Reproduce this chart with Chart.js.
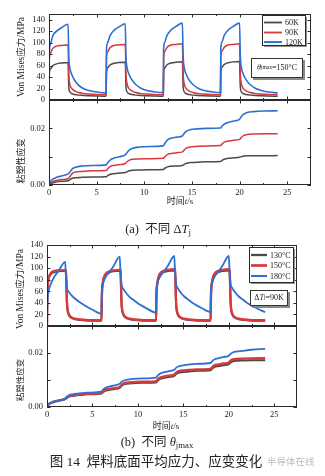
<!DOCTYPE html>
<html>
<head>
<meta charset="utf-8">
<script src="https://cdn.jsdelivr.net/npm/chart.js@4.4.1/dist/chart.umd.min.js"></script>
<style>
  body { margin: 0; background: #fff; }
  #page { position: relative; width: 325px; height: 476px; overflow: hidden; font-family: "Liberation Serif", "Noto Sans CJK SC", serif; color: #222; }
  canvas { position: absolute; left: 0; top: 0; }
  .t { position: absolute; white-space: nowrap; transform: translate(-50%, -50%); line-height: 1; }
  .note { position: absolute; background: #fff; border: 1px solid #333; box-shadow: 2px 2px 0 #8a8a8a; font-size: 8px; line-height: 1; display: flex; align-items: center; justify-content: center; white-space: nowrap; }
  sub { font-size: 70%; vertical-align: -2px; }
  .wm { position: absolute; font-family: "Noto Sans CJK SC", sans-serif; color: #bcbcbc; font-size: 9.5px; white-space: nowrap; line-height: 1; transform: translateY(-50%); }
</style>
</head>
<body>
<div id="page">
  <canvas id="stressA" width="325" height="476"></canvas>
  <canvas id="strainA" width="325" height="476"></canvas>
  <canvas id="stressB" width="325" height="476"></canvas>
  <canvas id="strainB" width="325" height="476"></canvas>

  <div class="note" style="left:251px;top:58px;width:50px;height:18px;"><i>θ</i><sub>jmax</sub>=150°C</div>
  <div class="note" style="left:250px;top:290px;width:36px;height:14px;">Δ<i>T</i><sub>j</sub>=90K</div>

  <div class="t" style="left:180px;top:201px;font-size:9px;">时间<i>t</i>/s</div>
  <div class="t" style="left:166px;top:426px;font-size:9px;">时间<i>t</i>/s</div>
  <div class="t" style="left:158px;top:230px;font-size:12.5px;">(a)&nbsp; 不同 Δ<i>T</i><sub>j</sub></div>
  <div class="t" style="left:157px;top:443px;font-size:12.5px;">(b)&nbsp; 不同 <i>θ</i><sub>jmax</sub></div>
  <div class="t" style="left:156px;top:462px;font-size:13.5px;">图 14&nbsp; 焊料底面平均应力、应变变化</div>
  <div class="wm" style="left:267px;top:462px;">半导体在线</div>
</div>

<script>
// 时间轴（应力曲线）：每 6 s 一个热循环，0–2 s 升温，2–6 s 冷却
const stressTime = [
  0, 0.03, 0.15, 0.4, 0.8, 1.3, 2.0, 2.08, 2.2, 2.4, 2.7, 3.1, 3.6, 4.2, 5.0,
  6, 6.03, 6.15, 6.4, 6.8, 7.3, 8.0, 8.08, 8.2, 8.4, 8.7, 9.1, 9.6, 10.2, 11.0,
  12, 12.03, 12.15, 12.4, 12.8, 13.3, 14.0, 14.08, 14.2, 14.4, 14.7, 15.1, 15.6, 16.2, 17.0,
  18, 18.03, 18.15, 18.4, 18.8, 19.3, 20.0, 20.08, 20.2, 20.4, 20.7, 21.1, 21.6, 22.2, 23.0, 24.0
];

// (a) 不同 ΔTj，θjmax = 150°C
const stressA60 = [
  0, 45, 54, 60, 63, 64.5, 65.5, 22, 14, 11, 9.5, 8.5, 8, 7.5, 7,
  6.5, 47, 56, 61, 64, 65.5, 66, 23, 14, 11, 9.5, 8.5, 8, 7.5, 7,
  6.5, 47, 56, 61.5, 64.5, 66, 66.5, 23, 14, 11, 9.5, 8.5, 8, 7.5, 7,
  6.5, 48, 57, 62, 65, 66.5, 67, 23, 14, 11, 9.5, 8.5, 8, 7.5, 7, 6.5
];
const stressA90 = [
  0, 70, 82, 90, 94, 95, 96, 45, 27, 20, 16, 13, 11.5, 10.5, 9.5,
  9, 72, 84, 91, 95, 96, 97, 46, 28, 20, 16, 13, 11.5, 10.5, 9.5,
  9, 73, 85, 92, 96, 97, 98, 46, 28, 20, 16, 13, 11.5, 10.5, 9.5,
  9, 73, 85, 92, 96, 97, 98, 46, 28, 20, 16, 13, 11.5, 10.5, 9.5, 9
];
const stressA120 = [
  0, 80, 97, 112, 120, 126, 132, 75, 55, 44, 34, 26, 20, 16.5, 14,
  12.5, 88, 100, 112, 121, 127, 133, 76, 56, 45, 35, 27, 21, 17, 14.5,
  13, 88, 101, 113, 122, 128, 134, 77, 56, 45, 35, 27, 21, 17, 14.5,
  13, 88, 101, 113, 122, 128, 134, 77, 56, 45, 35, 27, 21, 17, 14, 12.5
];

// (b) 不同 θjmax，ΔTj = 90K
const stressB130 = [
  0, 48, 78, 89, 93, 94.5, 95.5, 95, 38, 19, 14, 11.5, 10.5, 9.5, 9,
  9, 46, 74, 87, 92, 94.5, 95.5, 95, 38, 19, 14, 11.5, 10.5, 9.5, 9,
  9, 46, 74, 88, 93, 95, 96, 95.5, 39, 19, 14, 11.5, 10.5, 9.5, 9,
  9, 46, 74, 88, 93, 95, 96, 95.5, 39, 19, 14, 11.5, 10.5, 9.5, 9, 9
];
const stressB150 = [
  0, 50, 80, 91, 95, 96, 96.5, 96, 40, 21, 15, 12.5, 11.5, 10.5, 10,
  10, 48, 76, 89, 94, 96, 97, 96.5, 40, 21, 15, 12.5, 11.5, 10.5, 10,
  10, 48, 76, 90, 95, 97, 98, 97, 41, 21, 15, 12.5, 11.5, 10.5, 10,
  10, 48, 76, 90, 95, 97, 98, 97, 41, 21, 15, 12.5, 11.5, 10.5, 10, 10
];
const stressB180 = [
  0, 35, 58, 72, 85, 96, 111, 85, 66, 59, 53, 47, 41, 35, 28,
  21, 55, 73, 83, 92, 103, 120, 94, 72, 64, 57, 50, 44, 37, 30,
  23, 56, 74, 84, 93, 104, 121, 95, 73, 65, 58, 51, 45, 38, 31,
  24, 56, 74, 84, 93, 104, 121, 95, 73, 65, 58, 51, 45, 38, 31, 24
];

// 时间轴（粘塑性应变曲线）
const strainTime = [
  0, 0.15, 0.4, 0.8, 1.3, 2.0, 2.2, 2.45, 2.8, 3.5, 4.5,
  6.0, 6.2, 6.45, 6.8, 7.4, 8.0, 8.2, 8.45, 8.8, 9.5, 10.5,
  12.0, 12.2, 12.45, 12.8, 13.4, 14.0, 14.2, 14.45, 14.8, 15.5, 16.5,
  18.0, 18.2, 18.45, 18.8, 19.4, 20.0, 20.2, 20.45, 20.8, 21.5, 22.5, 24.0
];
const strainA60 = [
  0, 0.0004, 0.0008, 0.0011, 0.0013, 0.0015, 0.0019, 0.0024, 0.0026, 0.0027, 0.0028,
  0.0029, 0.0034, 0.0038, 0.0040, 0.0042, 0.0044, 0.0047, 0.0050, 0.0052, 0.0053, 0.0054,
  0.0055, 0.0060, 0.0064, 0.0066, 0.0067, 0.0069, 0.0073, 0.0077, 0.0079, 0.0080, 0.0082,
  0.0083, 0.0088, 0.0092, 0.0094, 0.0096, 0.0098, 0.0100, 0.0102, 0.0103, 0.0103, 0.0103, 0.0104
];
const strainA90 = [
  0, 0.0007, 0.0012, 0.0016, 0.0019, 0.0022, 0.0030, 0.0041, 0.0046, 0.0048, 0.0050,
  0.0051, 0.0059, 0.0066, 0.0069, 0.0072, 0.0076, 0.0082, 0.0088, 0.0091, 0.0092, 0.0093,
  0.0094, 0.0101, 0.0108, 0.0111, 0.0114, 0.0117, 0.0124, 0.0131, 0.0134, 0.0136, 0.0138,
  0.0139, 0.0146, 0.0152, 0.0155, 0.0158, 0.0161, 0.0168, 0.0175, 0.0178, 0.0180, 0.0181, 0.0181
];
const strainA120 = [
  0, 0.0012, 0.0021, 0.0027, 0.0032, 0.0039, 0.0046, 0.0057, 0.0063, 0.0067, 0.0069,
  0.0071, 0.0080, 0.0089, 0.0095, 0.0100, 0.0106, 0.0115, 0.0124, 0.0130, 0.0134, 0.0136,
  0.0138, 0.0149, 0.0159, 0.0165, 0.0169, 0.0173, 0.0183, 0.0190, 0.0195, 0.0198, 0.0200,
  0.0201, 0.0209, 0.0216, 0.0221, 0.0226, 0.0232, 0.0242, 0.0250, 0.0256, 0.0259, 0.0261, 0.0262
];
const strainB130 = [
  0, 0.0008, 0.0014, 0.0019, 0.0023, 0.0029, 0.0034, 0.0039, 0.0041, 0.0044, 0.0047,
  0.0050, 0.0056, 0.0061, 0.0063, 0.0067, 0.0071, 0.0078, 0.0084, 0.0086, 0.0088, 0.0090,
  0.0091, 0.0098, 0.0104, 0.0107, 0.0111, 0.0115, 0.0122, 0.0127, 0.0129, 0.0131, 0.0134,
  0.0136, 0.0143, 0.0149, 0.0151, 0.0155, 0.0159, 0.0165, 0.0169, 0.0171, 0.0172, 0.0173, 0.0173
];
const strainB150 = [
  0, 0.0009, 0.0015, 0.0020, 0.0024, 0.0030, 0.0036, 0.0041, 0.0043, 0.0046, 0.0049,
  0.0052, 0.0058, 0.0064, 0.0066, 0.0070, 0.0074, 0.0082, 0.0088, 0.0090, 0.0092, 0.0094,
  0.0095, 0.0103, 0.0109, 0.0112, 0.0116, 0.0120, 0.0127, 0.0133, 0.0135, 0.0137, 0.0139,
  0.0141, 0.0149, 0.0155, 0.0157, 0.0161, 0.0165, 0.0172, 0.0176, 0.0178, 0.0179, 0.0180, 0.0181
];
const strainB180 = [
  0, 0.0009, 0.0015, 0.0021, 0.0025, 0.0031, 0.0038, 0.0044, 0.0047, 0.0050, 0.0053,
  0.0058, 0.0065, 0.0071, 0.0075, 0.0080, 0.0086, 0.0093, 0.0098, 0.0101, 0.0104, 0.0106,
  0.0109, 0.0117, 0.0124, 0.0128, 0.0133, 0.0138, 0.0145, 0.0150, 0.0153, 0.0157, 0.0160,
  0.0163, 0.0171, 0.0177, 0.0180, 0.0185, 0.0190, 0.0197, 0.0202, 0.0205, 0.0208, 0.0212, 0.0215
];

const xMajorTicks = [0, 5, 10, 15, 20, 25];
const xMinorTicks = [2.5, 7.5, 12.5, 17.5, 22.5];
const stressTicks = [0, 20, 40, 60, 80, 100, 120, 140];
const strainTicks = [0, 0.01, 0.02, 0.03];
const strainTickLabels = ['0.00', '', '0.02', ''];
const legendA = ['60K', '90K', '120K'];
const legendB = ['130°C', '150°C', '180°C'];

const lineColors = ['#4a4a4a', '#d8393b', '#2c6fd5'];
const serif = '"Liberation Serif", "Noto Sans CJK SC", serif';

function pts(times, vals) {
  return vals.map((v, i) => ({ x: times[i], y: v }));
}

function series(label, times, vals, i, width) {
  return {
    label,
    data: pts(times, vals),
    borderColor: lineColors[i],
    borderWidth: width,
    pointRadius: 0,
    cubicInterpolationMode: 'monotone',
    order: 2 - i
  };
}

// 外框、内向刻度、纵轴标题、图例框
const panelDecor = {
  id: 'panelDecor',
  afterDraw(chart, args, o) {
    const { ctx, chartArea: a } = chart;
    const x = chart.scales.x, y = chart.scales.y;
    ctx.save();
    ctx.strokeStyle = '#2a2a2a';
    ctx.lineWidth = 1;
    ctx.strokeRect(a.left + 0.5, a.top + 0.5, a.right - a.left - 1, a.bottom - a.top - 1);

    ctx.beginPath();
    const tickX = (v, len) => {
      const px = Math.round(x.getPixelForValue(v)) + 0.5;
      ctx.moveTo(px, a.bottom); ctx.lineTo(px, a.bottom - len);
      ctx.moveTo(px, a.top); ctx.lineTo(px, a.top + len);
    };
    xMajorTicks.forEach(v => tickX(v, 3.5));
    xMinorTicks.forEach(v => tickX(v, 2));
    o.yTicks.forEach(v => {
      const py = Math.round(y.getPixelForValue(v)) + 0.5;
      ctx.moveTo(a.left, py); ctx.lineTo(a.left + 3.5, py);
      ctx.moveTo(a.right, py); ctx.lineTo(a.right - 3.5, py);
    });
    ctx.stroke();

    // 纵轴标题
    ctx.fillStyle = '#222';
    ctx.font = o.titleSize + 'px ' + serif;
    ctx.textAlign = 'center';
    ctx.textBaseline = 'middle';
    ctx.translate(o.titleX, o.titleY);
    ctx.rotate(-Math.PI / 2);
    ctx.fillText(o.title, 0, 0);
    ctx.setTransform(1, 0, 0, 1, 0, 0);

    if (o.legend) {
      const L = o.legend;
      const [l, t, r, b] = L.box;
      ctx.fillStyle = '#8f8f8f';
      ctx.fillRect(l + 2, t + 2, r - l, b - t);
      ctx.fillStyle = '#fff';
      ctx.fillRect(l, t, r - l, b - t);
      ctx.strokeStyle = '#2a2a2a';
      ctx.strokeRect(l + 0.5, t + 0.5, r - l, b - t);
      ctx.font = '8px ' + serif;
      ctx.textAlign = 'left';
      chart.data.datasets.forEach((ds, i) => {
        ctx.strokeStyle = ds.borderColor;
        ctx.lineWidth = ds.borderWidth + 0.3;
        ctx.beginPath();
        ctx.moveTo(L.lineX[0], L.rowY[i]);
        ctx.lineTo(L.lineX[1], L.rowY[i]);
        ctx.stroke();
        ctx.fillStyle = '#222';
        ctx.fillText(ds.label, L.textX, L.rowY[i] + 0.5);
      });
    }
    ctx.restore();
  }
};

function makePanel(id, datasets, p) {
  return new Chart(document.getElementById(id), {
    type: 'line',
    data: { datasets },
    options: {
      responsive: false,
      animation: false,
      devicePixelRatio: 1,
      layout: { padding: p.padding },
      plugins: {
        legend: { display: false },
        tooltip: { enabled: false },
        panelDecor: p.decor
      },
      scales: {
        x: {
          type: 'linear',
          min: 0,
          max: 27.5,
          display: p.showX,
          afterFit: s => { s.height = p.showX ? 18 : 0; },
          grid: { display: false, drawTicks: false },
          border: { display: false },
          ticks: {
            stepSize: 5,
            includeBounds: false,
            autoSkip: false,
            maxRotation: 0,
            padding: 3,
            color: '#222',
            font: { family: serif, size: 8.5 }
          }
        },
        y: {
          min: p.yMin,
          max: p.yMax,
          afterFit: s => { s.width = 30; },
          grid: { display: false, drawTicks: false },
          border: { display: false },
          ticks: {
            stepSize: p.yStep,
            includeBounds: false,
            autoSkip: false,
            padding: 4,
            color: '#222',
            font: { family: serif, size: 8.5 },
            callback: p.yLabel
          }
        }
      }
    },
    plugins: [panelDecor]
  });
}

const stressLabel = v => String(v);
const strainLabel = (v, i) => strainTickLabels[i];

// (a) 应力
makePanel('stressA', [
  series(legendA[0], stressTime, stressA60, 0, 1.5),
  series(legendA[1], stressTime, stressA90, 1, 1.5),
  series(legendA[2], stressTime, stressA120, 2, 1.6)
], {
  padding: { left: 19, right: 14, top: 14, bottom: 376 },
  showX: false, yMin: 0, yMax: 150, yStep: 20, yLabel: stressLabel,
  decor: {
    yTicks: stressTicks, title: 'Von Mises应力/MPa', titleX: 21, titleY: 57, titleSize: 9.5,
    legend: { box: [262, 15, 305, 45], rowY: [22.5, 32.5, 42], lineX: [264, 282], textX: 285 }
  }
});

// (a) 粘塑性应变
makePanel('strainA', [
  series(legendA[0], strainTime, strainA60, 0, 1.5),
  series(legendA[1], strainTime, strainA90, 1, 1.5),
  series(legendA[2], strainTime, strainA120, 2, 1.6)
], {
  padding: { left: 19, right: 14, top: 100, bottom: 273 },
  showX: true, yMin: 0, yMax: 0.03, yStep: 0.01, yLabel: strainLabel,
  decor: { yTicks: strainTicks, title: '粘塑性应变', titleX: 22, titleY: 161, titleSize: 9 }
});

// (b) 应力
makePanel('stressB', [
  series(legendB[0], stressTime, stressB130, 0, 2),
  series(legendB[1], stressTime, stressB150, 1, 2.4),
  series(legendB[2], stressTime, stressB180, 2, 1.8)
], {
  padding: { left: 17, right: 28, top: 245, bottom: 150 },
  showX: false, yMin: 0, yMax: 140, yStep: 20, yLabel: stressLabel,
  decor: {
    yTicks: stressTicks, title: 'Von Mises应力/MPa', titleX: 20, titleY: 289, titleSize: 9.5,
    legend: { box: [249, 247, 293, 282], rowY: [255, 265.5, 276], lineX: [251, 267], textX: 270 }
  }
});

// (b) 粘塑性应变
makePanel('strainB', [
  series(legendB[0], strainTime, strainB130, 0, 2),
  series(legendB[1], strainTime, strainB150, 1, 2.4),
  series(legendB[2], strainTime, strainB180, 2, 1.8)
], {
  padding: { left: 17, right: 28, top: 326, bottom: 51 },
  showX: true, yMin: 0, yMax: 0.03, yStep: 0.01, yLabel: strainLabel,
  decor: { yTicks: strainTicks, title: '粘塑性应变', titleX: 21, titleY: 380, titleSize: 8.5 }
});
</script>
</body>
</html>
